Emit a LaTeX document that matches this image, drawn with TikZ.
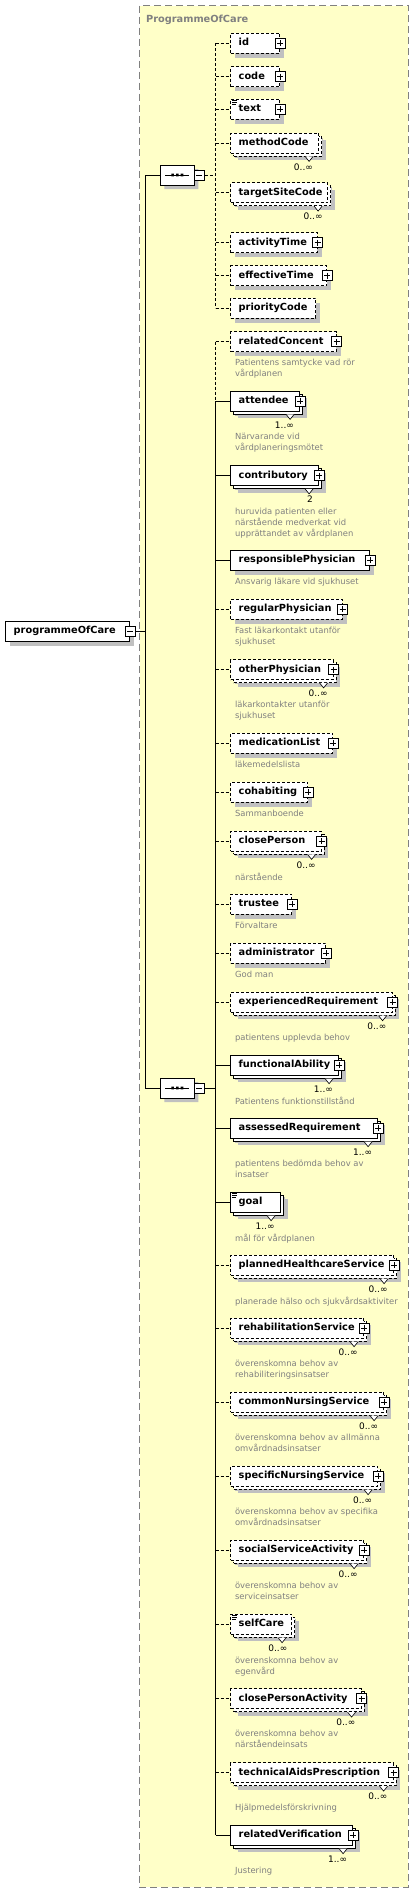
\documentclass[tikz,border=0pt]{standalone}
\usepackage{fontspec}
\setmainfont{DejaVu Sans}
\usetikzlibrary{shapes.misc,shadows}
\definecolor{paleyellow}{RGB}{255,255,200}
\definecolor{shadowgray}{RGB}{192,192,192}
\definecolor{notegray}{RGB}{128,128,128}

\begin{document}
\begin{tikzpicture}[x=1pt,y=-1pt,line width=0.8pt,
  frame/.style={fill=paleyellow,draw=notegray,dash pattern=on 7pt off 4pt},
  elem/.style={draw,fill=white,anchor=west,align=left,inner xsep=8pt,inner ysep=0pt,minimum height=20pt,
    text height=7pt,text depth=2pt,font=\bfseries\fontsize{9.8}{11}\selectfont,
    drop shadow={shadow xshift=4.5pt,shadow yshift=-4.5pt,fill=shadowgray,opacity=1,draw=none}},
  opt/.style={dash pattern=on 3pt off 2pt},
  multi/.style={drop shadow={shadow xshift=7pt,shadow yshift=-7pt,fill=shadowgray,opacity=1,draw=none},
    copy shadow={shadow xshift=3pt,shadow yshift=-3pt}},
  notch/.style={fill=white,line width=0.6pt},
  plusbox/.style={draw,fill=white,minimum size=10pt,inner sep=0pt,line width=0.6pt,
    path picture={\draw ([xshift=2pt]path picture bounding box.west) -- ([xshift=-2pt]path picture bounding box.east)
      ([yshift=-2pt]path picture bounding box.north) -- ([yshift=2pt]path picture bounding box.south);}},
  minusbox/.style={draw,fill=white,minimum size=10pt,inner sep=0pt,line width=0.6pt,
    path picture={\draw ([xshift=2pt]path picture bounding box.west) -- ([xshift=-2pt]path picture bounding box.east);}},
  seqbox/.style={chamfered rectangle,chamfered rectangle xsep=5pt,draw,fill=white,minimum width=34pt,minimum height=20pt,
    inner sep=0pt,drop shadow={shadow xshift=4pt,shadow yshift=-4pt,fill=shadowgray,opacity=1,draw=none}},
  icon/.style={line width=0.6pt},
  note/.style={anchor=north west,yshift=6.6pt,align=left,inner sep=0pt,text=notegray,font=\fontsize{8.4}{11}\selectfont},
  occ/.style={anchor=base east,inner sep=0pt,font=\fontsize{9}{11}\selectfont},
  title/.style={anchor=base west,inner sep=0pt,text=notegray,font=\bfseries\fontsize{9.8}{11}\selectfont}]
\useasboundingbox (0,0) rectangle (414,1893);
\draw[frame] (139.5,5.5) rectangle (408.3,1887);
\node[title] (title) at (145.7,22.5) {ProgrammeOfCare};

% root and the two sequences
\node[elem,text width=108pt] (programmeOfCare) at (5.3,631.3) {programmeOfCare};
\node[minusbox] (rootMinus) at (programmeOfCare.east) {};
\coordinate (trunk) at (145.7,631.3);
\node[seqbox] (seqA) at (177.3,175) {};
\node[minusbox] (seqAMinus) at (199.3,175) {};
\node[seqbox] (seqB) at (177.3,1088) {};
\node[minusbox] (seqBMinus) at (199.3,1088) {};
\draw ([xshift=-12pt]seqA.center) -- ([xshift=12pt]seqA.center);
\fill (seqA.center) +(-6,-1.3) rectangle +(-3.4,1.3) +(-1.3,-1.3) rectangle +(1.3,1.3) +(3.4,-1.3) rectangle +(6,1.3);
\draw ([xshift=-12pt]seqB.center) -- ([xshift=12pt]seqB.center);
\fill (seqB.center) +(-6,-1.3) rectangle +(-3.4,1.3) +(-1.3,-1.3) rectangle +(1.3,1.3) +(3.4,-1.3) rectangle +(6,1.3);
\coordinate (busA) at (215.7,175);
\coordinate (busB) at (215.7,1088);
\draw (rootMinus.east) -- (trunk);
\draw (seqA.west) -| (trunk) |- (seqB.west);

% first sequence
\node[elem,opt,text width=33pt] (id) at (230.3,43.3) {id};
\node[plusbox] (idPlus) at (id.east) {};
\node[elem,opt,text width=33pt] (code) at (230.3,76.7) {code};
\node[plusbox] (codePlus) at (code.east) {};
\node[elem,opt,text width=33pt] (text) at (230.3,109.3) {text};
\node[plusbox] (textPlus) at (text.east) {};
\draw[icon] ([shift={(2,1.5)}]text.north west) -- ++(5,0) ([shift={(2,3.5)}]text.north west) -- ++(5,0) ([shift={(2,5.5)}]text.north west) -- ++(4,0);
\node[elem,opt,multi,text width=72pt] (methodCode) at (230.3,143) {methodCode};
\draw[notch] ([shift={(-14,3)}]methodCode.south east) -- ++(4,5) -- ++(4,-5);
\node[occ] (methodCodeOcc) at (313.3,170) {0..∞};
\node[elem,opt,multi,text width=81pt] (targetSiteCode) at (230.3,192.7) {targetSiteCode};
\draw[notch] ([shift={(-14,3)}]targetSiteCode.south east) -- ++(4,5) -- ++(4,-5);
\node[occ] (targetSiteCodeOcc) at (323,219.7) {0..∞};
\node[elem,opt,text width=70.5pt] (activityTime) at (230.3,242.7) {activityTime};
\node[plusbox] (activityTimePlus) at (activityTime.east) {};
\node[elem,opt,text width=80pt] (effectiveTime) at (230.3,275.7) {effectiveTime};
\node[plusbox] (effectiveTimePlus) at (effectiveTime.east) {};
\node[elem,opt,text width=69pt] (priorityCode) at (230.3,308.3) {priorityCode};
\draw[opt] (seqAMinus.east) -- (busA);
\draw[opt] (id.west -| busA) -- (priorityCode.west -| busA);
\draw[opt] (id.west -| busA) -- (id.west) (code.west -| busA) -- (code.west) (text.west -| busA) -- (text.west)
  (methodCode.west -| busA) -- (methodCode.west) (targetSiteCode.west -| busA) -- (targetSiteCode.west)
  (activityTime.west -| busA) -- (activityTime.west) (effectiveTime.west -| busA) -- (effectiveTime.west)
  (priorityCode.west -| busA) -- (priorityCode.west);

% second sequence
\node[elem,opt,text width=89.5pt] (relatedConcent) at (230.3,341.7) {relatedConcent};
\node[plusbox] (relatedConcentPlus) at (relatedConcent.east) {};
\node[note] (relatedConcentNote) at (234.7,365.7) {Patientens samtycke vad rör\\vårdplanen};
\node[elem,multi,text width=53pt] (attendee) at (230.3,401) {attendee};
\draw[notch] ([shift={(-14,3)}]attendee.south east) -- ++(4,5) -- ++(4,-5);
\node[plusbox] (attendeePlus) at (attendee.east) {};
\node[occ] (attendeeOcc) at (294.3,428) {1..∞};
\node[note] (attendeeNote) at (234.7,439.7) {Närvarande vid\\vårdplaneringsmötet};
\node[elem,multi,text width=72pt] (contributory) at (230.3,475.5) {contributory};
\draw[notch] ([shift={(-14,3)}]contributory.south east) -- ++(4,5) -- ++(4,-5);
\node[plusbox] (contributoryPlus) at (contributory.east) {};
\node[occ] (contributoryOcc) at (313.3,502.5) {2};
\node[note] (contributoryNote) at (234.7,514) {huruvida patienten eller\\närstående medverkat vid\\upprättandet av vårdplanen};
\node[elem,text width=123pt] (responsiblePhysician) at (230.3,560) {responsiblePhysician};
\node[plusbox] (responsiblePhysicianPlus) at (responsiblePhysician.east) {};
\node[note] (responsiblePhysicianNote) at (234.7,584.7) {Ansvarig läkare vid sjukhuset};
\node[elem,opt,text width=95.5pt] (regularPhysician) at (230.3,609.3) {regularPhysician};
\node[plusbox] (regularPhysicianPlus) at (regularPhysician.east) {};
\node[note] (regularPhysicianNote) at (234.7,633.7) {Fast läkarkontakt utanför\\sjukhuset};
\node[elem,opt,multi,text width=86.5pt] (otherPhysician) at (230.3,669.5) {otherPhysician};
\draw[notch] ([shift={(-14,3)}]otherPhysician.south east) -- ++(4,5) -- ++(4,-5);
\node[plusbox] (otherPhysicianPlus) at (otherPhysician.east) {};
\node[occ] (otherPhysicianOcc) at (328,696.5) {0..∞};
\node[note] (otherPhysicianNote) at (234.7,707.3) {läkarkontakter utanför\\sjukhuset};
\node[elem,opt,text width=86pt] (medicationList) at (230.3,743.3) {medicationList};
\node[plusbox] (medicationListPlus) at (medicationList.east) {};
\node[note] (medicationListNote) at (234.7,767.3) {läkemedelslista};
\node[elem,opt,text width=61pt] (cohabiting) at (230.3,792.3) {cohabiting};
\node[plusbox] (cohabitingPlus) at (cohabiting.east) {};
\node[note] (cohabitingNote) at (234.7,816.3) {Sammanboende};
\node[elem,opt,multi,text width=74.5pt] (closePerson) at (230.3,841) {closePerson};
\draw[notch] ([shift={(-14,3)}]closePerson.south east) -- ++(4,5) -- ++(4,-5);
\node[plusbox] (closePersonPlus) at (closePerson.east) {};
\node[occ] (closePersonOcc) at (316,868) {0..∞};
\node[note] (closePersonNote) at (234.7,879.3) {närstående};
\node[elem,opt,text width=45pt] (trustee) at (230.3,904.3) {trustee};
\node[plusbox] (trusteePlus) at (trustee.east) {};
\node[note] (trusteeNote) at (234.7,928.3) {Förvaltare};
\node[elem,opt,text width=79pt] (administrator) at (230.3,953.3) {administrator};
\node[plusbox] (administratorPlus) at (administrator.east) {};
\node[note] (administratorNote) at (234.7,977.3) {God man};
\node[elem,opt,multi,text width=145.5pt] (experiencedRequirement) at (230.3,1002.3) {experiencedRequirement};
\draw[notch] ([shift={(-14,3)}]experiencedRequirement.south east) -- ++(4,5) -- ++(4,-5);
\node[plusbox] (experiencedRequirementPlus) at (experiencedRequirement.east) {};
\node[occ] (experiencedRequirementOcc) at (386.7,1029.3) {0..∞};
\node[note] (experiencedRequirementNote) at (234.7,1040.7) {patientens upplevda behov};
\node[elem,multi,text width=92pt] (functionalAbility) at (230.3,1065.3) {functionalAbility};
\draw[notch] ([shift={(-14,3)}]functionalAbility.south east) -- ++(4,5) -- ++(4,-5);
\node[plusbox] (functionalAbilityPlus) at (functionalAbility.east) {};
\node[occ] (functionalAbilityOcc) at (333.3,1092.3) {1..∞};
\node[note] (functionalAbilityNote) at (234.7,1103.3) {Patientens funktionstillstånd};
\node[elem,multi,text width=131pt] (assessedRequirement) at (230.3,1128.3) {assessedRequirement};
\draw[notch] ([shift={(-14,3)}]assessedRequirement.south east) -- ++(4,5) -- ++(4,-5);
\node[plusbox] (assessedRequirementPlus) at (assessedRequirement.east) {};
\node[occ] (assessedRequirementOcc) at (372.5,1155.3) {1..∞};
\node[note] (assessedRequirementNote) at (234.7,1166.3) {patientens bedömda behov av\\insatser};
\node[elem,multi,text width=34pt] (goal) at (230.3,1202.3) {goal};
\draw[notch] ([shift={(-14,3)}]goal.south east) -- ++(4,5) -- ++(4,-5);
\draw[icon] ([shift={(2,1.5)}]goal.north west) -- ++(5,0) ([shift={(2,3.5)}]goal.north west) -- ++(5,0) ([shift={(2,5.5)}]goal.north west) -- ++(4,0);
\node[occ] (goalOcc) at (275,1229.3) {1..∞};
\node[note] (goalNote) at (234.7,1240.7) {mål för vårdplanen};
\node[elem,opt,multi,text width=147pt] (plannedHealthcareService) at (230.3,1265.3) {plannedHealthcareService};
\draw[notch] ([shift={(-14,3)}]plannedHealthcareService.south east) -- ++(4,5) -- ++(4,-5);
\node[plusbox] (plannedHealthcareServicePlus) at (plannedHealthcareService.east) {};
\node[occ] (plannedHealthcareServiceOcc) at (388,1292.3) {0..∞};
\node[note] (plannedHealthcareServiceNote) at (234.7,1303.7) {planerade hälso och sjukvårdsaktiviter};
\node[elem,opt,multi,text width=117pt] (rehabilitationService) at (230.3,1328.3) {rehabilitationService};
\draw[notch] ([shift={(-14,3)}]rehabilitationService.south east) -- ++(4,5) -- ++(4,-5);
\node[plusbox] (rehabilitationServicePlus) at (rehabilitationService.east) {};
\node[occ] (rehabilitationServiceOcc) at (358,1355.3) {0..∞};
\node[note] (rehabilitationServiceNote) at (234.7,1366.7) {överenskomna behov av\\rehabiliteringsinsatser};
\node[elem,opt,multi,text width=137pt] (commonNursingService) at (230.3,1402.3) {commonNursingService};
\draw[notch] ([shift={(-14,3)}]commonNursingService.south east) -- ++(4,5) -- ++(4,-5);
\node[plusbox] (commonNursingServicePlus) at (commonNursingService.east) {};
\node[occ] (commonNursingServiceOcc) at (378.5,1429.3) {0..∞};
\node[note] (commonNursingServiceNote) at (234.7,1440.7) {överenskomna behov av allmänna\\omvårdnadsinsatser};
\node[elem,opt,multi,text width=131pt] (specificNursingService) at (230.3,1476.3) {specificNursingService};
\draw[notch] ([shift={(-14,3)}]specificNursingService.south east) -- ++(4,5) -- ++(4,-5);
\node[plusbox] (specificNursingServicePlus) at (specificNursingService.east) {};
\node[occ] (specificNursingServiceOcc) at (372.5,1503.3) {0..∞};
\node[note] (specificNursingServiceNote) at (234.7,1514.7) {överenskomna behov av specifika\\omvårdnadsinsatser};
\node[elem,opt,multi,text width=117pt] (socialServiceActivity) at (230.3,1550.3) {socialServiceActivity};
\draw[notch] ([shift={(-14,3)}]socialServiceActivity.south east) -- ++(4,5) -- ++(4,-5);
\node[plusbox] (socialServiceActivityPlus) at (socialServiceActivity.east) {};
\node[occ] (socialServiceActivityOcc) at (358,1577.3) {0..∞};
\node[note] (socialServiceActivityNote) at (234.7,1588.7) {överenskomna behov av\\serviceinsatser};
\node[elem,opt,multi,text width=45pt] (selfCare) at (230.3,1624.3) {selfCare};
\draw[notch] ([shift={(-14,3)}]selfCare.south east) -- ++(4,5) -- ++(4,-5);
\draw[icon] ([shift={(2,1.5)}]selfCare.north west) -- ++(5,0) ([shift={(2,3.5)}]selfCare.north west) -- ++(5,0) ([shift={(2,5.5)}]selfCare.north west) -- ++(4,0);
\node[occ] (selfCareOcc) at (287.7,1651.3) {0..∞};
\node[note] (selfCareNote) at (234.7,1663) {överenskomna behov av\\egenvård};
\node[elem,opt,multi,text width=114.5pt] (closePersonActivity) at (230.3,1698.7) {closePersonActivity};
\draw[notch] ([shift={(-14,3)}]closePersonActivity.south east) -- ++(4,5) -- ++(4,-5);
\node[plusbox] (closePersonActivityPlus) at (closePersonActivity.east) {};
\node[occ] (closePersonActivityOcc) at (355.7,1725.7) {0..∞};
\node[note] (closePersonActivityNote) at (234.7,1736.7) {överenskomna behov av\\närståendeinsats};
\node[elem,opt,multi,text width=146.5pt] (technicalAidsPrescription) at (230.3,1772.7) {technicalAidsPrescription};
\draw[notch] ([shift={(-14,3)}]technicalAidsPrescription.south east) -- ++(4,5) -- ++(4,-5);
\node[plusbox] (technicalAidsPrescriptionPlus) at (technicalAidsPrescription.east) {};
\node[occ] (technicalAidsPrescriptionOcc) at (387.7,1799.7) {0..∞};
\node[note] (technicalAidsPrescriptionNote) at (234.7,1810.7) {Hjälpmedelsförskrivning};
\node[elem,multi,text width=106pt] (relatedVerification) at (230.3,1835.3) {relatedVerification};
\draw[notch] ([shift={(-14,3)}]relatedVerification.south east) -- ++(4,5) -- ++(4,-5);
\node[plusbox] (relatedVerificationPlus) at (relatedVerification.east) {};
\node[occ] (relatedVerificationOcc) at (347.5,1862.3) {1..∞};
\node[note] (relatedVerificationNote) at (234.7,1873.3) {Justering};
\draw (seqBMinus.east) -- (busB);
\draw[opt] (relatedConcent.west -| busB) -- (attendee.west -| busB);
\draw (attendee.west -| busB) -- (relatedVerification.west -| busB);
\draw (attendee.west -| busB) -- (attendee.west) (contributory.west -| busB) -- (contributory.west)
  (responsiblePhysician.west -| busB) -- (responsiblePhysician.west) (functionalAbility.west -| busB) -- (functionalAbility.west)
  (assessedRequirement.west -| busB) -- (assessedRequirement.west) (goal.west -| busB) -- (goal.west)
  (relatedVerification.west -| busB) -- (relatedVerification.west);
\draw[opt] (relatedConcent.west -| busB) -- (relatedConcent.west) (regularPhysician.west -| busB) -- (regularPhysician.west)
  (otherPhysician.west -| busB) -- (otherPhysician.west) (medicationList.west -| busB) -- (medicationList.west)
  (cohabiting.west -| busB) -- (cohabiting.west) (closePerson.west -| busB) -- (closePerson.west)
  (trustee.west -| busB) -- (trustee.west) (administrator.west -| busB) -- (administrator.west)
  (experiencedRequirement.west -| busB) -- (experiencedRequirement.west)
  (plannedHealthcareService.west -| busB) -- (plannedHealthcareService.west)
  (rehabilitationService.west -| busB) -- (rehabilitationService.west)
  (commonNursingService.west -| busB) -- (commonNursingService.west)
  (specificNursingService.west -| busB) -- (specificNursingService.west)
  (socialServiceActivity.west -| busB) -- (socialServiceActivity.west)
  (selfCare.west -| busB) -- (selfCare.west) (closePersonActivity.west -| busB) -- (closePersonActivity.west)
  (technicalAidsPrescription.west -| busB) -- (technicalAidsPrescription.west);
\end{tikzpicture}
\end{document}
